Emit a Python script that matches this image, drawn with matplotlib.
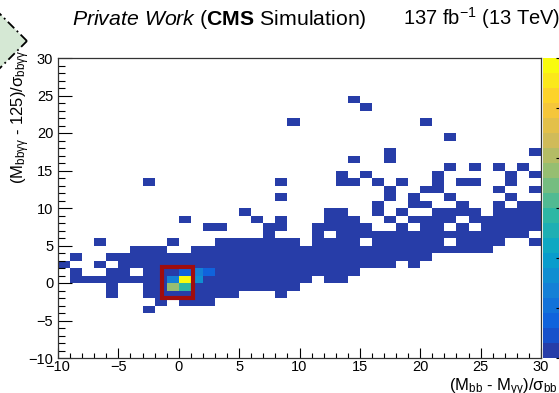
import numpy as np
import matplotlib
matplotlib.use("Agg")
import matplotlib.pyplot as plt
from matplotlib.colors import LinearSegmentedColormap, ListedColormap, BoundaryNorm
from matplotlib.patches import Polygon, Rectangle
from matplotlib.ticker import MultipleLocator

plt.rcParams['font.family'] = ['Liberation Sans', 'DejaVu Sans']
plt.rcParams['mathtext.fontset'] = 'custom'
plt.rcParams['mathtext.rm'] = 'Liberation Sans'
plt.rcParams['mathtext.it'] = 'Liberation Sans:italic'
plt.rcParams['mathtext.bf'] = 'Liberation Sans:bold'
plt.rcParams['mathtext.sf'] = 'Liberation Sans'

# binning: 40 x 40 bins of width 1
x_edges = np.arange(-10, 31)
y_edges = np.arange(-10, 31)

# lower y edge of each populated row, and the x bins (lower edges) filled once in that row
row_y = np.arange(24, -5, -1)
row_cols = [
    [14],
    [15],
    [],
    [9, 20],
    [],
    [22],
    [],
    [17, 29],
    [14, 17],
    [22, 24, 26, 28],
    [13, 15, 21, 27, 29],
    [-3, 8, 13, 14, 16, 18, 21, 23, 24, 27],
    [17, 20, 21, 26, 29],
    [8, 17, 19, 22, 27],
    [16, 19, 20, 23, 26, 28, 29],
    [5, 12, 13, 16, 18, 21, 22, 23, 24, 26, 27, 28, 29],
    [0, 6, 8, 12, 13, 14, 17, 19, 20, 21, 22, 24, 25, 26, 27, 28, 29],
    [2, 3, 7, 8, 11, 12, 13, 14, 15, 18, 20, 21, 23, 25, 26, 27, 28, 29],
    [7, 11, *range(13, 29)],
    [-7, -1, *range(3, 10), 11, 12, 13, 14, *range(16, 22), 23, 24, 25, 26, 29],
    [-4, -3, -2, *range(1, 26)],
    [-9, *range(-6, 21)],
    [-10, -7, *range(-5, 18), 19],
    [-9, -6, -5, *range(-3, 15)],
    [*range(-9, 11), 12, 13],
    [-6, *range(-3, 10)],
    [-6, *range(-3, 5), 8],
    [-2, 0, 1, 2],
    [-3],
]

# bins around the origin with larger content
peak_x = [-1, 0, 1, 2, -1, 0, 1, -1, 0]
peak_y = [1, 1, 1, 1, 0, 0, 0, -1, -1]
peak_w = [1, 3, 5, 3, 5, 24, 7, 15, 11]

z_max = 24
n_contours = 20

# ROOT kBird palette
bird_stops = [0.0, 0.125, 0.25, 0.375, 0.5, 0.625, 0.75, 0.875, 1.0]
bird_r = [0.2082, 0.0592, 0.0780, 0.0232, 0.1802, 0.5301, 0.8186, 0.9956, 0.9764]
bird_g = [0.1664, 0.3599, 0.5041, 0.6419, 0.7178, 0.7492, 0.7328, 0.7862, 0.9832]
bird_b = [0.5293, 0.8684, 0.8385, 0.7914, 0.6425, 0.4662, 0.3499, 0.1968, 0.0539]

bird = LinearSegmentedColormap.from_list(
    "bird", list(zip(bird_stops, zip(bird_r, bird_g, bird_b))))
# one palette colour per contour level, picked the way ROOT does for COLZ
level_pos = (np.arange(n_contours) + 0.99) / n_contours
cmap = ListedColormap(bird(level_pos))
norm = BoundaryNorm(np.linspace(0, z_max, n_contours + 1), n_contours)

counts = np.zeros((len(y_edges) - 1, len(x_edges) - 1))
for y, cols in zip(row_y, row_cols):
    for x in cols:
        counts[np.searchsorted(y_edges, y), np.searchsorted(x_edges, x)] = 1
for x, y, w in zip(peak_x, peak_y, peak_w):
    counts[np.searchsorted(y_edges, y), np.searchsorted(x_edges, x)] = w

W, H = 559, 393
fig = plt.figure(figsize=(W / 100, H / 100), dpi=100)
ax = fig.add_axes([58 / W, 1 - 358 / H, 483 / W, 300 / H])
cax = fig.add_axes([543 / W, 1 - 358 / H, 17 / W, 300 / H])

mesh = ax.pcolormesh(x_edges, y_edges, np.ma.masked_equal(counts, 0),
                     cmap=cmap, norm=norm)

# highlighted region around the peak
ax.add_patch(Rectangle((-1.4, -1.95), 2.6, 4.15, fill=False,
                       edgecolor="#a00d0d", linewidth=3, zorder=5))

ax.set_xlim(-10, 30)
ax.set_ylim(-10, 30)
ax.xaxis.set_major_locator(MultipleLocator(5))
ax.xaxis.set_minor_locator(MultipleLocator(1))
ax.yaxis.set_major_locator(MultipleLocator(5))
ax.yaxis.set_minor_locator(MultipleLocator(1))
ax.tick_params(axis='x', which='major', direction='in', length=7.2, width=0.8,
               labelsize=10.5, pad=1.5, top=False)
ax.tick_params(axis='x', which='minor', direction='in', length=3.6, width=0.8, top=False)
ax.tick_params(axis='y', which='major', direction='in', length=10, width=0.8,
               labelsize=10.5, pad=3.5, right=False)
ax.tick_params(axis='y', which='minor', direction='in', length=5, width=0.8, right=False)
for s in ax.spines.values():
    s.set_linewidth(0.9)
    s.set_color("#333333")

cbar = fig.colorbar(mesh, cax=cax, ticks=np.arange(0, z_max + 1, 4))
cbar.outline.set_visible(False)
cax.tick_params(direction='in', length=3, width=0.8, labelright=False,
                right=True, left=False)

fig.text(72 / W, 1 - 25 / H, r'$\mathit{Private\ Work}$ ($\mathbf{CMS}$ Simulation)',
         fontsize=15.3, ha='left', va='baseline')
fig.text(403 / W, 1 - 25 / H, '137 fb$^{\\mathrm{-1}}$ (13 TeV)',
         fontsize=14.5, ha='left', va='baseline')
fig.text(21 / W, 1 - 50 / H, r'(M$_{\mathrm{bbγγ}}$ - 125)/σ$_{\mathrm{bbγγ}}$',
         rotation=90, ha='center', va='top', fontsize=12)
fig.text(558 / W, 1 - 391 / H, r'(M$_{\mathrm{bb}}$ - M$_{\mathrm{γγ}}$)/σ$_{\mathrm{bb}}$',
         ha='right', va='baseline', fontsize=12)

# corner of the flow-chart box next to the plot
diamond = Polygon([(27 / W, 1 - 41 / H), (0, 1 - 14 / H), (-27 / W, 1 - 41 / H), (0, 1 - 68 / H)],
                  closed=True, facecolor="#d5e8d4", edgecolor="black", linewidth=1.3,
                  linestyle=(0, (5, 2, 1, 2)), transform=fig.transFigure)
fig.add_artist(diamond)

fig.savefig("out.png", dpi=100)
